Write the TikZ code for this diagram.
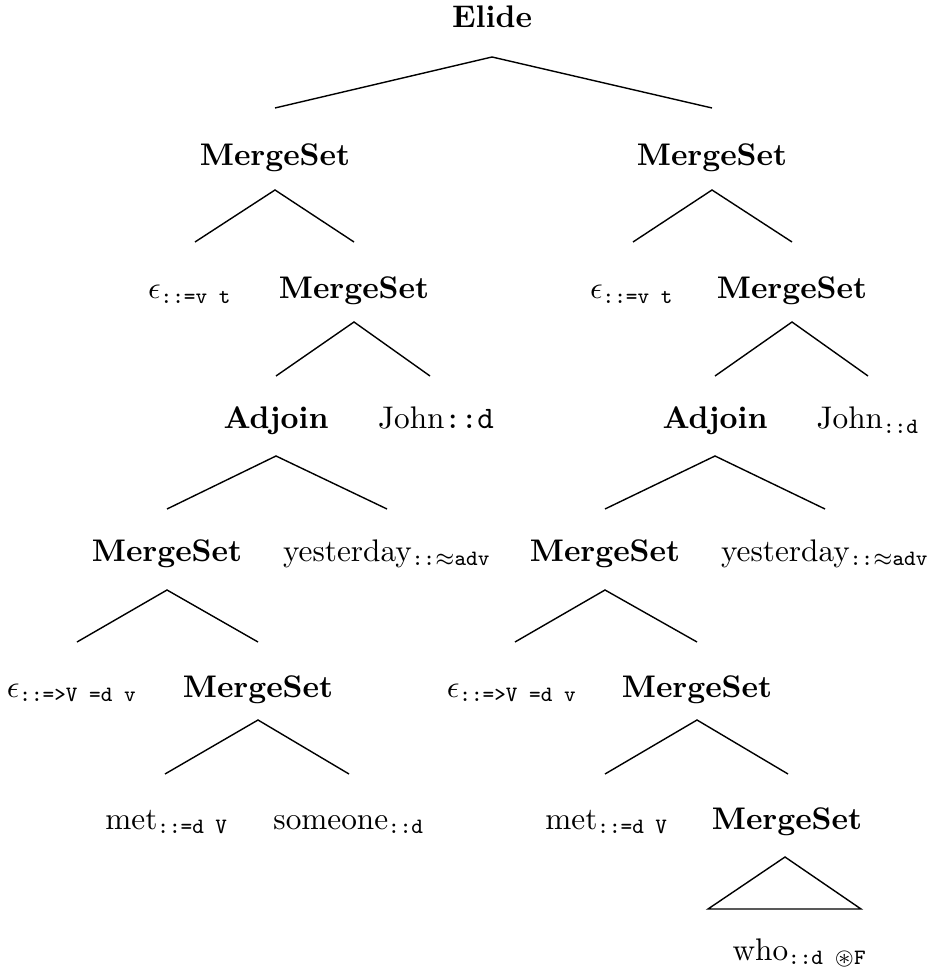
\documentclass[tikz,border=0pt]{standalone}
\usepackage{amsmath,amssymb}
\usetikzlibrary{calc}
\begin{document}
\begin{tikzpicture}[x=0.32pt,y=-0.32pt,
  lab/.style={anchor=base,inner sep=0pt},
  bl/.style={lab,font=\bfseries},
  br/.style={line width=0.45pt}]
\useasboundingbox (0,0) rectangle (930,973);
% nodes
\node[bl] (elide) at (492,28) {Elide};
\node[bl] (m1) at (275,166) {MergeSet};
\node[bl] (m5) at (712,166) {MergeSet};
\node[lab] (e1) at (190,299) {$\epsilon_{\texttt{::=v t}}$};
\node[bl] (m2) at (354,299) {MergeSet};
\node[lab] (e3) at (632,299) {$\epsilon_{\texttt{::=v t}}$};
\node[bl] (m6) at (792,299) {MergeSet};
\node[bl] (a1) at (276,429) {Adjoin};
\node[lab] (j1) at (436,429) {John\texttt{::d}};
\node[bl] (a2) at (715,429) {Adjoin};
\node[lab] (j2) at (868,429) {John$_{\texttt{::d}}$};
\node[bl] (m3) at (167,561) {MergeSet};
\node[lab] (y1) at (387,561) {yesterday$_{\texttt{::}\approx\texttt{adv}}$};
\node[bl] (m7) at (605,561) {MergeSet};
\node[lab] (y2) at (825,561) {yesterday$_{\texttt{::}\approx\texttt{adv}}$};
\node[lab] (e2) at (72,697) {$\epsilon_{\texttt{::=>V =d v}}$};
\node[bl] (m4) at (258,697) {MergeSet};
\node[lab] (e4) at (512,697) {$\epsilon_{\texttt{::=>V =d v}}$};
\node[bl] (m8) at (697,697) {MergeSet};
\node[lab] (met1) at (167,829) {met$_{\texttt{::=d V}}$};
\node[lab] (s1) at (349,829) {someone$_{\texttt{::d}}$};
\node[lab] (met2) at (607,829) {met$_{\texttt{::=d V}}$};
\node[bl] (m9) at (787,829) {MergeSet};
\node[lab] (who) at (800,960) {who$_{\texttt{::d }\circledast\texttt{F}}$};
% edges
\draw[br] ($(m1.base)+(0,-58)$) -- ($(elide.base)+(0,29)$) -- ($(m5.base)+(0,-58)$);
\draw[br] ($(e1.base)+(5,-57)$) -- ($(m1.base)+(0,24)$) -- ($(m2.base)+(0,-57)$);
\draw[br] ($(e3.base)+(1,-57)$) -- ($(m5.base)+(0,24)$) -- ($(m6.base)+(0,-57)$);
\draw[br] ($(a1.base)+(0,-53)$) -- ($(m2.base)+(0,23)$) -- ($(j1.base)+(-6,-53)$);
\draw[br] ($(a2.base)+(0,-53)$) -- ($(m6.base)+(0,23)$) -- ($(j2.base)+(0,-53)$);
\draw[br] ($(m3.base)+(0,-52)$) -- ($(a1.base)+(0,27)$) -- ($(y1.base)+(0,-52)$);
\draw[br] ($(m7.base)+(0,-52)$) -- ($(a2.base)+(0,27)$) -- ($(y2.base)+(0,-52)$);
\draw[br] ($(e2.base)+(5,-55)$) -- ($(m3.base)+(0,29)$) -- ($(m4.base)+(0,-55)$);
\draw[br] ($(e4.base)+(3,-55)$) -- ($(m7.base)+(0,29)$) -- ($(m8.base)+(0,-55)$);
\draw[br] ($(met1.base)+(-2,-55)$) -- ($(m4.base)+(0,23)$) -- ($(s1.base)+(0,-55)$);
\draw[br] ($(met2.base)+(-2,-55)$) -- ($(m8.base)+(0,23)$) -- ($(m9.base)+(1,-55)$);
\draw[br] ($(m9.base)+(-2,28)$) -- ($(m9.base)+(-79,80)$) -- ($(m9.base)+(74,80)$) -- cycle;
\end{tikzpicture}
\end{document}
